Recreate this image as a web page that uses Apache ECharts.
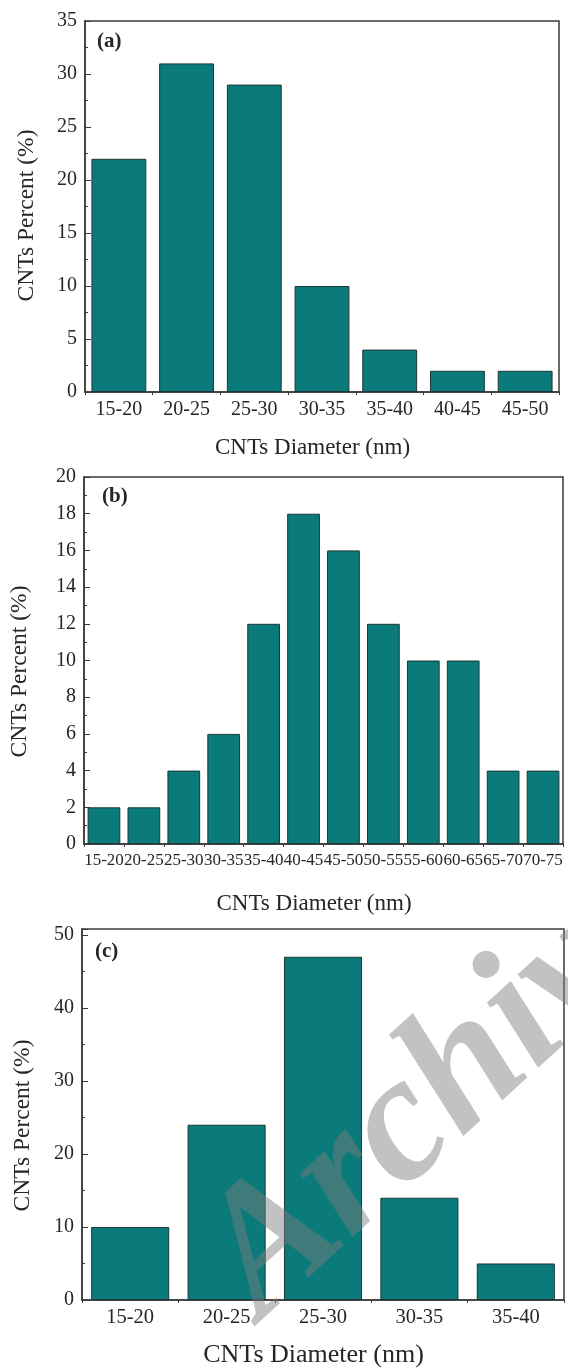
<!DOCTYPE html>
<html>
<head>
<meta charset="utf-8">
<script src="https://cdn.jsdelivr.net/npm/echarts@6/dist/echarts.min.js"></script>
<style>
html,body{margin:0;padding:0;background:#fff;}
#c{width:568px;height:1369px;}
</style>
</head>
<body>
<div id="c"></div>
<script>
const catsA = ['15-20','20-25','25-30','30-35','35-40','40-45','45-50'];
const valsA = [22, 31, 29, 10, 4, 2, 2];
const catsB = ['15-20','20-25','25-30','30-35','35-40','40-45','45-50','50-55','55-60','60-65','65-70','70-75'];
const valsB = [2, 2, 4, 6, 12, 18, 16, 12, 10, 10, 4, 4];
const catsC = ['15-20','20-25','25-30','30-35','35-40'];
const valsC = [10, 24, 47, 14, 5];
const panelLabels = ['(a)','(b)','(c)'];
const xTitle = 'CNTs Diameter (nm)';
const yTitle = 'CNTs Percent (%)';
const watermark = 'Archive of SID';

const FONT = '"Liberation Serif", "DejaVu Serif", serif';
const BAR = '#0a7a7a';
const AX = '#3a3a3a';
const TXT = '#262626';

const grids = [
  {left:85, top:21, width:474, height:371},
  {left:82, top:477, width:481, height:367},
  {left:82, top:929, width:482, height:375}
];
const yCfg = [
  {max:35, interval:5, step:5},
  {max:20, interval:2, step:2},
  {max:50.8, interval:10, step:10}
];
const cats = [catsA, catsB, catsC];
const vals = [valsA, valsB, valsC];
const gaps = ['19%','18%','19%'];
const xLabelSize = [20, 17, 20.5];
const xNameGap = [44, 48, 42];
const xNameSize = [23, 23, 26];
const yNameGap = [46, 52, 47];

const mainX = cats.map((c,i) => ({
  type:'category', gridIndex:i, data:c,
  axisLine:{lineStyle:{color:AX, width:1.5}},
  axisTick:{inside:true, alignWithLabel:true, length:5, lineStyle:{color:AX}},
  axisLabel:{interval:0, color:TXT, fontFamily:FONT, fontSize:xLabelSize[i], margin:(i===2?7:8)},
  name:xTitle, nameLocation:'middle', nameGap:xNameGap[i],
  nameTextStyle:{color:TXT, fontFamily:FONT, fontSize:xNameSize[i], padding:[0,19,0,0]}
}));
const boundaryX = cats.map((c,i) => ({
  type:'category', gridIndex:i, data:c, position:'bottom',
  axisLine:{show:false},
  axisTick:{show:true, inside:false, alignWithLabel:false, length:3, lineStyle:{color:AX}},
  axisLabel:{show:false}
}));

const option = {
  animation:false,
  backgroundColor:'#fff',
  grid: grids.map(g => Object.assign({show:true, borderColor:AX, borderWidth:1.5, backgroundColor:'transparent'}, g)),
  xAxis: mainX.concat(boundaryX),
  yAxis: yCfg.map((y,i) => ({
    type:'value', gridIndex:i, min:0, max:y.max, interval:y.interval,
    splitLine:{show:false},
    axisLine:{show:true, lineStyle:{color:AX, width:1.5}},
    axisTick:{show:true, inside:true, length:6, lineStyle:{color:AX}},
    minorTick:{show:true, splitNumber:2, length:3, lineStyle:{color:AX}},
    axisLabel:{color:TXT, fontFamily:FONT, fontSize:20, margin:8,
      formatter: v => (Math.abs(v / y.step - Math.round(v / y.step)) < 1e-6 ? String(v) : '')},
    name:yTitle, nameLocation:'middle', nameGap:yNameGap[i], nameRotate:90,
    nameTextStyle:{color:TXT, fontFamily:FONT, fontSize:23.5, padding:[0,(i===0?18:22),0,0]}
  })),
  series: vals.map((v,i) => ({
    type:'bar', xAxisIndex:i, yAxisIndex:i, data:v,
    barCategoryGap:gaps[i],
    itemStyle:{color:BAR, borderColor:'#1d3838', borderWidth:1}
  })),
  graphic: [
    {type:'text', left:97, top:31, style:{text:panelLabels[0], font:'bold 21px ' + FONT, fill:TXT}},
    {type:'text', left:102, top:486, style:{text:panelLabels[1], font:'bold 21px ' + FONT, fill:TXT}},
    {type:'text', left:95, top:941, style:{text:panelLabels[2], font:'bold 21px ' + FONT, fill:TXT}},
    {type:'text', x:230, y:1286, rotation:0.74, z:100, silent:true,
     style:{text:watermark, font:'bold italic 180px ' + FONT, fill:'rgba(126,126,126,0.47)', align:'left', verticalAlign:'middle'}}
  ]
};
const chart = echarts.init(document.getElementById('c'), null, {renderer:'canvas'});
chart.setOption(option);
</script>
</body>
</html>
